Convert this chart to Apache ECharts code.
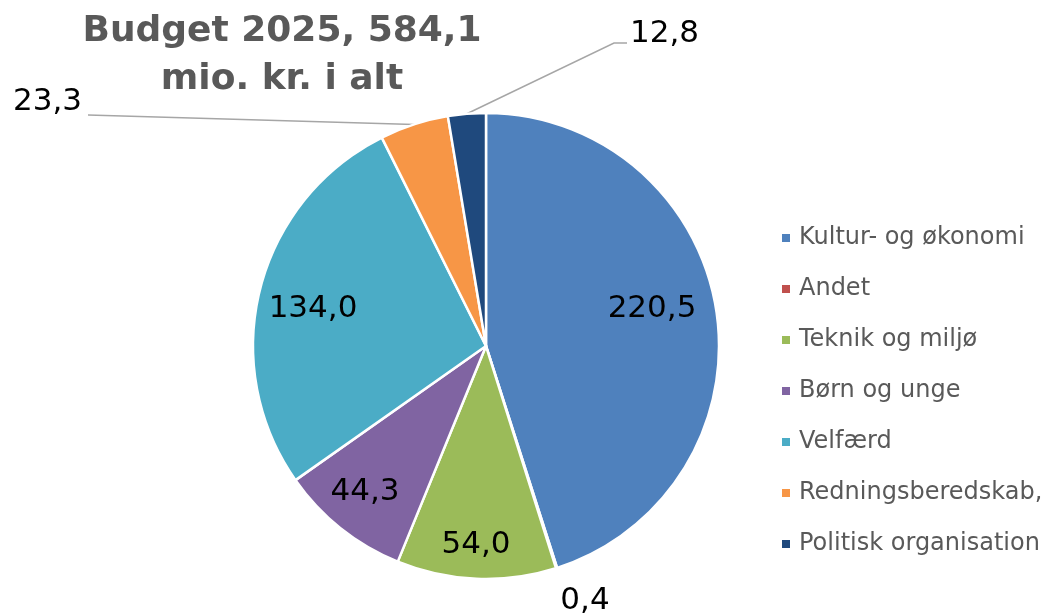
<!DOCTYPE html>
<html>
<head>
<meta charset="utf-8">
<style>
  html, body { margin: 0; padding: 0; background: #fff; }
  #chart { width: 1043px; height: 614px; }
</style>
<script src="https://cdn.jsdelivr.net/npm/echarts@6/dist/echarts.min.js"></script>
</head>
<body>
<div id="chart"></div>
<script>
// budget areas, mio. kr.
const categories = ['Kultur- og økonomi', 'Andet', 'Teknik og miljø', 'Børn og unge', 'Velfærd', 'Redningsberedskab,', 'Politisk organisation'];
const values = [220.5, 0.4, 54.0, 44.3, 134.0, 23.3, 12.8];
const colors = ['#4F81BD', '#C0504D', '#9BBB59', '#8064A2', '#4BACC6', '#F79646', '#1F497D'];

// where each value label sits (x, y, align)
const labelPos = [
    [652, 309, 'center'],
    [585, 601, 'center'],
    [476, 545, 'center'],
    [365, 492, 'center'],
    [313, 309, 'center'],
    [82, 102, 'right'],
    [630, 34, 'left']
];
// leader line bends for the two small slices that need one
const leaderPts = {
    5: [[88, 115]],
    6: [[614, 43], [627, 43]]
};

const font = "'DejaVu Sans', Verdana, sans-serif";

const chart = echarts.init(document.getElementById('chart'));

const fmt = v => v.toFixed(1).replace('.', ',');

const pieData = categories.map((name, i) => {
    const outside = i === 1 || i === 5 || i === 6;
    return {
        name: name,
        value: values[i],
        itemStyle: { color: colors[i] },
        label: { position: outside ? 'outside' : 'inside' },
        labelLine: { show: i === 5 || i === 6 }
    };
});

chart.setOption({
    animation: false,
    title: {
        text: 'Budget 2025, 584,1\nmio. kr. i alt',
        left: 277,
        top: 3,
        textAlign: 'center',
        textStyle: {
            fontFamily: font,
            fontSize: 36,
            fontWeight: 'bold',
            color: '#595959',
            lineHeight: 48
        }
    },
    legend: {
        orient: 'vertical',
        left: 780,
        top: 226,
        padding: 0,
        icon: 'rect',
        itemWidth: 10,
        itemHeight: 10,
        itemGap: 27,
        selectedMode: false,
        data: categories,
        textStyle: {
            fontFamily: font,
            fontSize: 24,
            lineHeight: 24,
            color: '#595959',
            padding: [0, 0, 0, 3]
        }
    },
    series: [{
        type: 'pie',
        center: [486, 346],
        radius: 233,
        startAngle: 90,
        clockwise: true,
        avoidLabelOverlap: false,
        itemStyle: { borderColor: '#fff', borderWidth: 2.5 },
        label: {
            show: true,
            fontFamily: font,
            fontSize: 31,
            color: '#000',
            formatter: p => fmt(p.value)
        },
        labelLine: {
            length: 10,
            length2: 10,
            lineStyle: { color: '#A6A6A6', width: 1.5 }
        },
        emphasis: { disabled: true },
        labelLayout: function (params) {
            const i = params.dataIndex;
            const pos = labelPos[i];
            const out = { x: pos[0], y: pos[1], align: pos[2], verticalAlign: 'middle' };
            if (leaderPts[i] && params.labelLinePoints) {
                const start = params.labelLinePoints[0];
                const pts = [start].concat(leaderPts[i]);
                if (pts.length < 3) pts.push(pts[pts.length - 1]);
                out.labelLinePoints = pts;
            }
            return out;
        },
        data: pieData
    }]
});
</script>
</body>
</html>
